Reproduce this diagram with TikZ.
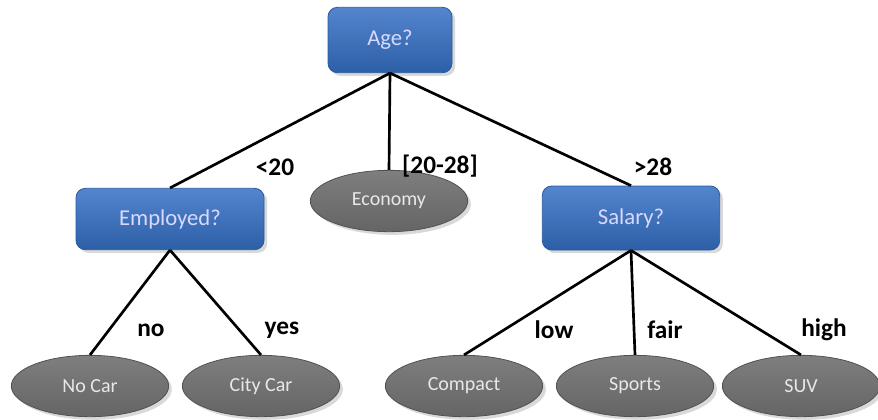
\documentclass[tikz,border=0pt]{standalone}
\usepackage{fontspec}
\setmainfont{Carlito}
\usetikzlibrary{shapes.geometric,shadows}

\definecolor{boxblue}{RGB}{52,112,196}
\definecolor{boxedge}{RGB}{40,88,160}
\definecolor{leafgray}{RGB}{112,112,112}
\definecolor{leafedge}{RGB}{82,82,82}

\tikzset{
  test/.style={draw=boxedge, top color=boxblue!85!white, bottom color=boxblue!85!black,
    rounded corners=7pt, line width=0.6pt, text=white!85!blue,
    font=\fontsize{17}{19}\selectfont, drop shadow={opacity=0.3}},
  leaf/.style={ellipse, draw=leafedge, top color=leafgray!90!white, bottom color=leafgray!90!black,
    line width=0.6pt, minimum width=118pt, minimum height=46pt, text=white!82!gray,
    font=\fontsize{15}{17}\selectfont, drop shadow={opacity=0.3}},
  edge/.style={line width=2pt},
  lab/.style={font=\bfseries\fontsize{19}{21}\selectfont}
}

\begin{document}
\begin{tikzpicture}[x=0.75pt, y=-0.75pt]
    \useasboundingbox (0,0) rectangle (878,419);

    % draw inner nodes
    \node[test, minimum width=93pt, minimum height=49pt] (age) at (390,40) {Age?};
    \node[test, minimum width=141pt, minimum height=46pt] (employed) at (170,219) {Employed?};
    \node[test, minimum width=133pt, minimum height=48pt] (salary) at (631,218) {Salary?};

    % draw leaves
    \node[leaf] (economy) at (389,201) {Economy};
    \node[leaf] (nocar) at (90,386) {No Car};
    \node[leaf] (citycar) at (261,386) {City Car};
    \node[leaf] (compact) at (464,386) {Compact};
    \node[leaf] (sports) at (635,386) {Sports};
    \node[leaf] (suv) at (801,386) {SUV};

    % draw branches
    \draw[edge] (age.south) -- (employed.north);
    \draw[edge] (age.south) -- (economy.north);
    \draw[edge] (age.south) -- (salary.north);
    \foreach \leaf in {nocar,citycar}
        \draw[edge] (employed.south) -- (\leaf.north);
    \foreach \leaf in {compact,sports,suv}
        \draw[edge] (salary.south) -- (\leaf.north);

    % draw branch labels
    \node[lab] (lt20) at (275,167) {<20};
    \node[lab] (mid) at (440,166) {[20-28]};
    \node[lab] (gt28) at (653,167) {>28};
    \node[lab] (no) at (151,330) {no};
    \node[lab] (yes) at (282,330) {yes};
    \node[lab] (low) at (554,330) {low};
    \node[lab] (fair) at (665,330) {fair};
    \node[lab] (high) at (824,330) {high};
\end{tikzpicture}
\end{document}
